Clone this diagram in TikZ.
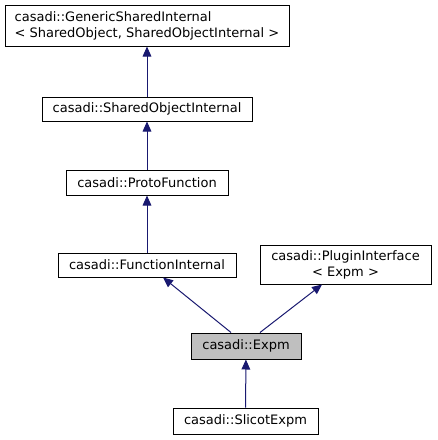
\documentclass[tikz,border=0pt]{standalone}
\usepackage{fontspec}
\setmainfont{DejaVu Sans}
\usetikzlibrary{arrows.meta}
\definecolor{edgeblue}{HTML}{191970}
\begin{document}
\begin{tikzpicture}[x=0.75pt, y=-0.75pt,
        cls/.style={draw=black, fill=white, line width=0.75pt, inner sep=0pt,
                    font=\fontsize{9.75}{12}\selectfont},
        current/.style={cls, fill=black!25},
        inherit/.style={draw=edgeblue, line width=0.75pt,
                        -{Triangle[length=7.5pt, width=6.5pt, fill=edgeblue]}}]
        \useasboundingbox (0,0) rectangle (437,440);
        \node[cls, minimum width=213pt, minimum height=30.75pt, align=left] (gsi) at (147,25.5)
            {casadi::GenericSharedInternal\\{<} SharedObject, SharedObjectInternal {>}};
        \node[cls, minimum width=157.5pt, minimum height=18pt] (soi) at (147,109) {casadi::SharedObjectInternal};
        \node[cls, minimum width=121.5pt, minimum height=18.75pt] (proto) at (147,182.5) {casadi::ProtoFunction};
        \node[cls, minimum width=133.5pt, minimum height=18pt] (funint) at (147,265) {casadi::FunctionInternal};
        \node[cls, minimum width=128.25pt, minimum height=29.25pt, align=center] (plugin) at (345.5,264.5)
            {casadi::PluginInterface\\{<} Expm {>}};
        \node[current, minimum width=82.5pt, minimum height=19.5pt] (expm) at (246,346) {casadi::Expm};
        \node[cls, minimum width=108.75pt, minimum height=19.5pt] (slicot) at (245.5,421) {casadi::SlicotExpm};
        \draw[inherit] (soi) -- (gsi);
        \draw[inherit] (proto) -- (soi);
        \draw[inherit] (funint) -- (proto);
        \draw[inherit] ([xshift=-11.25pt]expm.north) -- ([xshift=12pt]funint.south);
        \draw[inherit] ([xshift=10.5pt]expm.north) -- ([xshift=-17.6pt]plugin.south);
        \draw[inherit] (slicot) -- (expm);
    \end{tikzpicture}
\end{document}
